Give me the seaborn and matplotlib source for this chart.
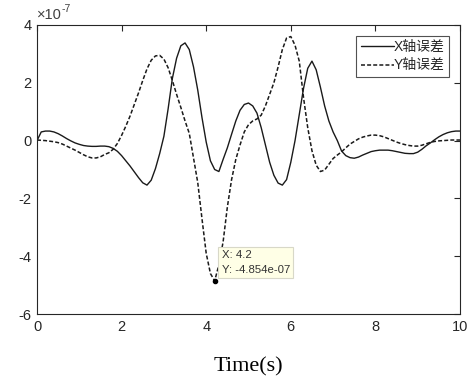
import numpy as np
import pandas as pd
import matplotlib
matplotlib.use("Agg")
import matplotlib.pyplot as plt
import matplotlib.ticker as mticker
import seaborn as sns

# ---- data (values in units of 1e-7) ----
SCALE = 1e-7
time_s = [round(0.1 * i, 1) for i in range(101)]
x_err = [
    0.00, 0.30, 0.33, 0.33, 0.30, 0.24, 0.16, 0.07, -0.01, -0.08,
    -0.13, -0.17, -0.19, -0.20, -0.20, -0.19, -0.19, -0.21, -0.27, -0.37,
    -0.52, -0.70, -0.88, -1.08, -1.28, -1.46, -1.54, -1.37, -0.97, -0.45,
    0.15, 1.10, 2.15, 2.85, 3.28, 3.38, 3.15, 2.55, 1.75, 0.80,
    -0.05, -0.70, -1.00, -1.07, -0.65, -0.25, 0.22, 0.68, 1.05, 1.25,
    1.30, 1.20, 0.95, 0.45, -0.15, -0.75, -1.20, -1.47, -1.54, -1.35,
    -0.75, 0.00, 0.90, 1.80, 2.50, 2.75, 2.45, 1.85, 1.20, 0.68,
    0.30, 0.00, -0.36, -0.52, -0.59, -0.61, -0.57, -0.50, -0.44, -0.38,
    -0.35, -0.33, -0.33, -0.33, -0.35, -0.38, -0.41, -0.44, -0.45, -0.45,
    -0.40, -0.30, -0.18, -0.08, 0.03, 0.13, 0.21, 0.27, 0.31, 0.33,
    0.33,
]
y_err = [
    0.02, 0.01, 0.00, -0.02, -0.04, -0.07, -0.12, -0.19, -0.26, -0.33,
    -0.41, -0.49, -0.56, -0.60, -0.60, -0.56, -0.48, -0.42, -0.30, -0.10,
    0.18, 0.50, 0.85, 1.25, 1.65, 2.08, 2.48, 2.78, 2.93, 2.95,
    2.82, 2.52, 2.08, 1.60, 1.15, 0.68, 0.25, -0.60, -1.45, -2.70,
    -3.90, -4.60, -4.854, -4.30, -3.50, -2.30, -1.35, -0.65, -0.15, 0.30,
    0.55, 0.68, 0.75, 0.88, 1.20, 1.60, 2.00, 2.55, 3.15, 3.55,
    3.60, 3.30, 2.75, 1.50, 0.45, -0.35, -0.85, -1.07, -1.02, -0.82,
    -0.62, -0.50, -0.39, -0.25, -0.12, -0.03, 0.06, 0.12, 0.16, 0.19,
    0.19, 0.17, 0.13, 0.07, 0.01, -0.05, -0.10, -0.14, -0.17, -0.19,
    -0.19, -0.16, -0.11, -0.06, -0.03, -0.01, 0.00, 0.01, 0.02, 0.02,
    0.02,
]
series_labels = ["X轴误差", "Y轴误差"]
tip_x = 4.2
tip_y = -4.854
x_ticks = [0, 2, 4, 6, 8, 10]
y_ticks = [-6, -4, -2, 0, 2, 4]

df = pd.DataFrame({
    "t": time_s,
    "x": np.array(x_err) * SCALE,
    "y": np.array(y_err) * SCALE,
})

sns.set_theme(style="white")
plt.rcParams["font.family"] = ["Liberation Sans", "Noto Sans CJK SC", "DejaVu Sans"]
plt.rcParams["axes.unicode_minus"] = False

fig = plt.figure(figsize=(4.74, 3.76), dpi=100)
ax = fig.add_axes([37 / 474, 62 / 376, 423 / 474, 289 / 376])

dark = "#262626"
sns.lineplot(data=df, x="t", y="x", ax=ax, color="#1a1a1a", linewidth=1.0,
             label=series_labels[0])
sns.lineplot(data=df, x="t", y="y", ax=ax, color="#1a1a1a", linewidth=1.1,
             label=series_labels[1])
ax.lines[1].set_dashes((2.6, 1.4))

ax.set_xlim(0, 10)
ax.set_ylim(-6 * SCALE, 4 * SCALE)
ax.set_xticks(x_ticks)
ax.set_yticks(np.array(y_ticks) * SCALE)
ax.yaxis.set_major_formatter(mticker.FuncFormatter(lambda v, p: f"{v / SCALE:.0f}"))
ax.xaxis.set_major_formatter(mticker.FuncFormatter(lambda v, p: f"{v:g}"))

# exponent label (MATLAB style, hyphen minus)
ax.text(0.0, 1.012, "×10", transform=ax.transAxes, fontsize=10.5, color="#404040",
        ha="left", va="bottom")
ax.text(0.057, 1.038, "-7", transform=ax.transAxes, fontsize=7.5, color="#404040",
        ha="left", va="bottom")

ax.tick_params(direction="in", length=4, width=0.8, top=True, right=True,
               labelsize=10.5, colors=dark, pad=4)
for sp in ax.spines.values():
    sp.set_color(dark)
    sp.set_linewidth(0.8)
    sp.set_visible(True)

ax.set_xlabel("Time(s)", fontsize=16, family="Liberation Serif", color="black",
              labelpad=17)
ax.set_ylabel("")

leg = ax.legend(loc="upper right", frameon=True, fancybox=False, fontsize=10,
                handlelength=2.4, handletextpad=0.0, borderpad=0.3,
                labelspacing=0.3, borderaxespad=0.8)
leg.get_frame().set_edgecolor(dark)
leg.get_frame().set_linewidth(0.8)

# data tip
ax.plot([tip_x], [tip_y * SCALE], marker="o", color="black", markersize=3)
ax.annotate(f"X: {tip_x}\nY: {tip_y * SCALE:.3e}",
            xy=(tip_x, tip_y * SCALE), xytext=(7, 6), textcoords="offset pixels",
            ha="left", va="bottom", fontsize=8.2, color="#333333", linespacing=1.55,
            bbox=dict(boxstyle="square,pad=0.3", facecolor="#FFFFE6",
                      edgecolor="#D8D8C8", linewidth=0.8))

fig.savefig("out.png", dpi=100)
